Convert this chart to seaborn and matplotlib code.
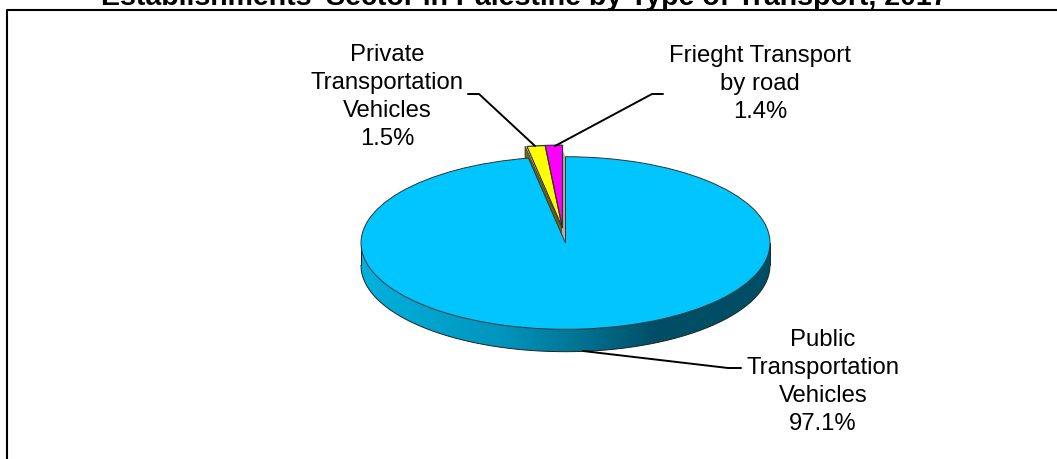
import numpy as np
import seaborn as sns
import matplotlib.pyplot as plt
from matplotlib.colors import LinearSegmentedColormap
from matplotlib.patches import Polygon

categories = ['Public\nTransportation\nVehicles', 'Private\nTransportation\nVehicles', 'Frieght Transport\nby road']
shares = [97.1, 1.5, 1.4]
slice_colors = ['#00C5FF', '#FFFF00', '#FF00FF']
title = "Establishments' Sector in Palestine by Type of Transport, 2017"

sns.set_theme(style='white')
plt.rcParams['font.family'] = ['Liberation Sans', 'DejaVu Sans']

W, H = 1057, 459
CX, CY, RX, RY = 565.5, 243, 204.5, 86.3
DEPTH = 22.4 / RY

fig = plt.figure(figsize=(W / 100, H / 100), dpi=100)
ax = fig.add_axes([0, 0, 1, 1])

# axes units: the unit circle is the pie top, squashed into an ellipse
def px(x, y):
    return (x - CX) / RX, (CY - y) / RY

# side wall with its left to right shading
t = np.linspace(np.pi, 2 * np.pi, 200)
outline = np.r_[np.c_[np.cos(t), np.sin(t)], np.c_[np.cos(t[::-1]), np.sin(t[::-1]) - DEPTH]]
wall = Polygon(outline, closed=True, facecolor='none', edgecolor='none')
ax.add_patch(wall)
shade = LinearSegmentedColormap.from_list('wall', [(0, '#00B2DE'), (0.35, '#0094BC'), (0.55, '#00708F'),
                                                   (0.72, '#004E66'), (1, '#004E66')])
img = ax.imshow(np.linspace(0, 1, 256)[None, :], cmap=shade, extent=(-1, 1, -1 - DEPTH, 0), aspect='auto', zorder=1)
img.set_clip_path(wall)
ax.plot(outline[200:, 0], outline[200:, 1], color='#222222', lw=0.7, zorder=2)
ax.plot([-1, -1], [0, -DEPTH], color='#222222', lw=0.7, zorder=2)
ax.plot([1, 1], [0, -DEPTH], color='#222222', lw=0.7, zorder=2)

# start at 12 o'clock going clockwise, so the small slices end up left of it
wedges, _ = ax.pie(shares, colors=slice_colors, startangle=90, counterclock=False,
                   radius=1, wedgeprops={'edgecolor': '#333333', 'linewidth': 0.7, 'zorder': 4})
ax.set_aspect('auto')
ax.set_xlim(-CX / RX, (W - CX) / RX)
ax.set_ylim((CY - H) / RY, CY / RY)
ax.set_frame_on(False)

# the two small slices are lifted together, no gap between them
for w in wedges[1:]:
    w.set_center(px(562.5, 228))
    w.set_radius(0.96)
    w.set_linewidth(0.9)

# thin dark side of the raised slices and the grey notch behind them
ax.add_patch(Polygon([px(525, 146), px(525, 158), px(562, 240), px(562, 228)], closed=True,
                     facecolor='#6B6B00', edgecolor='#333333', lw=0.5, zorder=3))
ax.add_patch(Polygon([px(562.5, 150), px(565.5, 157), px(565.5, 243), px(562.5, 235)], closed=True,
                     facecolor='#B0B0B0', edgecolor='none', zorder=3))

# leader lines
leaders = [[(535, 146), (479, 94), (468, 94)],
           [(555, 146), (652, 94), (663, 94)],
           [(583, 351), (728, 368), (741, 368)]]
for pts in leaders:
    xy = np.array([px(*p) for p in pts])
    ax.plot(xy[:, 0], xy[:, 1], color='black', lw=1.4, zorder=5)

# labels with their share
label_pos = [(823, 382), (387, 97), (760, 84)]
for name, share, pos in zip(categories, shares, label_pos):
    x, y = px(*pos)
    ax.text(x, y, f'{name}\n{share}%', ha='center', va='center', fontsize=17.2, color='black', linespacing=1.34, zorder=6)

# frame: only top and left are inside the crop
ax.plot(*zip(px(7, H), px(7, 10), px(W, 10)), color='black', lw=1.5, zorder=6)

x, y = px(524, -2)
ax.text(x, y, title, ha='center', va='center', fontsize=20.5, fontweight='bold', color='black', zorder=6)

fig.savefig('out.png', dpi=100)
